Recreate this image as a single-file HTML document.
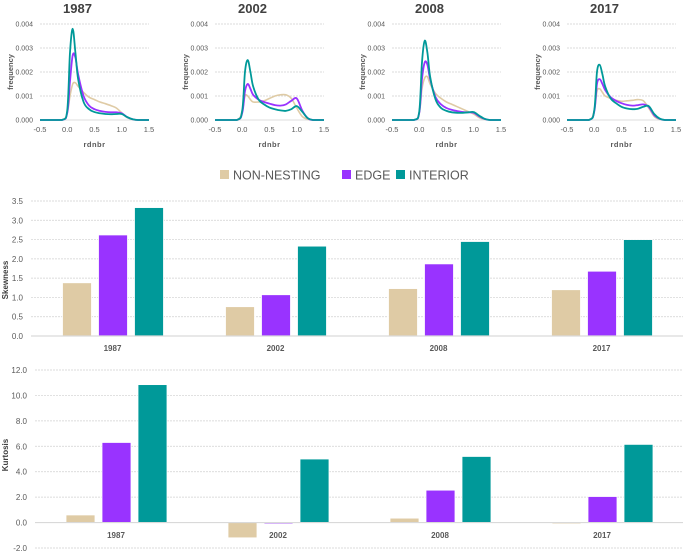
<!DOCTYPE html>
<html><head><meta charset="utf-8"><style>
body{margin:0;background:#fff;font-family:"Liberation Sans",sans-serif;}
svg{display:block}
</style></head><body>
<svg id="c" width="685" height="552"></svg>
<script>
const years=["1987","2002","2008","2017"];
const seriesNames=["NON-NESTING","EDGE","INTERIOR"];
const colors=["#dfcba5","#9933ff","#009999"];
const xSamples=[-0.5,-0.1,0,0.05,0.1,0.15,0.2,0.3,0.4,0.5,0.6,0.7,0.8,0.9,1.0,1.1,1.2,1.3,1.5];
// density values (x0.001)
const dens1987NN=[0,0,0.3,1.0,1.5,1.55,1.4,1.15,0.95,0.85,0.75,0.68,0.6,0.5,0.3,0.1,0.02,0,0];
const dens1987E=[0,0,0.3,1.6,2.7,2.6,1.9,1.0,0.6,0.45,0.38,0.34,0.32,0.32,0.28,0.12,0.03,0,0];
const dens1987I=[0,0,0.4,2.8,3.8,2.8,1.7,0.75,0.45,0.33,0.28,0.25,0.24,0.25,0.25,0.12,0.03,0,0];
const dens2002NN=[0,0,0.4,1.0,1.0,0.85,0.75,0.75,0.8,0.9,1.0,1.05,1.05,0.9,0.5,0.15,0.03,0,0];
const dens2002E=[0,0,0.3,1.2,1.5,1.3,1.05,0.85,0.75,0.68,0.62,0.6,0.65,0.8,0.9,0.4,0.08,0,0];
const dens2002I=[0,0,0.4,2.0,2.5,2.0,1.4,0.85,0.65,0.52,0.45,0.4,0.38,0.45,0.58,0.35,0.08,0,0];
const dens2008NN=[0,0,0.3,1.3,1.75,1.8,1.5,1.1,0.9,0.75,0.65,0.55,0.45,0.35,0.25,0.1,0.03,0,0];
const dens2008E=[0,0,0.3,1.7,2.4,2.3,1.7,0.95,0.65,0.5,0.42,0.37,0.33,0.32,0.3,0.15,0.04,0,0];
const dens2008I=[0,0,0.35,2.4,3.3,2.8,1.8,0.85,0.5,0.38,0.32,0.3,0.3,0.32,0.33,0.18,0.05,0,0];
const dens2017NN=[0,0,0.4,1.2,1.3,1.15,1.0,0.9,0.82,0.78,0.8,0.82,0.85,0.8,0.5,0.15,0.03,0,0];
const dens2017E=[0,0,0.35,1.5,1.7,1.5,1.25,0.95,0.8,0.7,0.63,0.6,0.62,0.65,0.55,0.2,0.05,0,0];
const dens2017I=[0,0,0.4,2.0,2.3,1.9,1.4,0.9,0.7,0.55,0.48,0.45,0.47,0.55,0.58,0.25,0.06,0,0];
const densities=[[dens1987NN,dens1987E,dens1987I],[dens2002NN,dens2002E,dens2002I],[dens2008NN,dens2008E,dens2008I],[dens2017NN,dens2017E,dens2017I]];
const freqTicks=["0.000","0.001","0.002","0.003","0.004"];
const rTicks=["-0.5","0.0","0.5","1.0","1.5"];
const skewNN=[1.38,0.76,1.23,1.2];
const skewE=[2.62,1.07,1.87,1.68];
const skewI=[3.33,2.33,2.45,2.5];
const kurtNN=[0.6,-1.2,0.35,-0.1];
const kurtE=[6.3,-0.1,2.55,2.05];
const kurtI=[10.85,5.0,5.2,6.15];
const skewTicks=["0.0","0.5","1.0","1.5","2.0","2.5","3.0","3.5"];
const kurtTicks=["-2.0","0.0","2.0","4.0","6.0","8.0","10.0","12.0"];

const svg=document.getElementById('c');
const NS="http://www.w3.org/2000/svg";
function mk(tag,attrs,parent){const e=document.createElementNS(NS,tag);for(const k in attrs)e.setAttribute(k,attrs[k]);(parent||svg).appendChild(e);return e;}
function txt(s,attrs,parent){const e=mk('text',attrs,parent);e.textContent=s;return e;}

const plotLefts=[40,215,392,567];
years.forEach((yr,i)=>{
  const g=mk('g',{});
  
  
  const x0=plotLefts[i],x1=x0+109,yTop=24,yBot=120;
  const sx=v=>x0+(v+0.5)/2*(x1-x0);
  const sy=v=>yBot-v/4*(yBot-yTop);
  const t=txt(yr,{x:(x0+x1)/2-17,y:13,'font-size':13,'font-weight':'bold',fill:'#404040','text-anchor':'middle'},g);
  
  
  freqTicks.forEach((lab,j)=>{
    const y=sy(j);
    if(j>0)mk('line',{x1:x0,x2:x1,y1:y,y2:y,stroke:'#d0d0d0','stroke-dasharray':'2,1','stroke-width':0.7},g);
    else mk('line',{x1:x0,x2:x1,y1:y,y2:y,stroke:'#d0d0d0','stroke-width':0.8},g);
    const tl=txt(lab,{x:x0-7,y:y+2.5,'font-size':7,fill:'#595959','text-anchor':'end'},g);
    
    
  });
  rTicks.forEach((lab,j)=>{
    const tl=txt(lab,{x:sx(parseFloat(lab)),y:132,'font-size':7.5,fill:'#595959','text-anchor':'middle'},g);
    
    
  });
  const xt=txt('rdnbr',{x:(x0+x1)/2,y:147,'font-size':7.5,'font-weight':'bold',fill:'#595959','text-anchor':'middle','letter-spacing':'0.5'},g);
  
  
  const yt=txt('frequency',{x:0,y:0,'font-size':7.5,'font-weight':'bold',fill:'#595959','text-anchor':'middle',transform:`translate(${x0-27},72) rotate(-90)`},g);
  
  
  densities[i].forEach((arr,s)=>{
    const pts=xSamples.map((xv,k)=>[sx(xv),sy(arr[k])]);
    let d='M'+pts[0][0]+','+pts[0][1];
    for(let k=0;k<pts.length-1;k++){
      const p0=pts[Math.max(0,k-1)],p1=pts[k],p2=pts[k+1],p3=pts[Math.min(pts.length-1,k+2)];
      const c1=[p1[0]+(p2[0]-p0[0])/6,p1[1]+(p2[1]-p0[1])/6];
      const c2=[p2[0]-(p3[0]-p1[0])/6,p2[1]-(p3[1]-p1[1])/6];
      d+=`C${c1[0]},${Math.min(yBot,c1[1])} ${c2[0]},${Math.min(yBot,c2[1])} ${p2[0]},${p2[1]}`;
    }
    const p=mk('path',{d:d,fill:'none',stroke:colors[s],'stroke-width':s==0?1.6:1.8},g);
    
    
  });
});

const legX=[220,342,396];
const lg=mk('g',{});


seriesNames.forEach((n,s)=>{
  const r=mk('rect',{x:legX[s],y:170,width:9,height:9,fill:colors[s]},lg);
  
  
  const t=txt(n,{x:legX[s]+13,y:179.5,'font-size':12.5,fill:'#595959'},lg);
  
  
});

function barChart(name,title,vals,ticks,tmin,tmax,left,right,yTopPx,yBotPx,labY,titleY){
  const g=mk('g',{});
  
  
  const sy=v=>yBotPx-(v-tmin)/(tmax-tmin)*(yBotPx-yTopPx);
  ticks.forEach(lab=>{
    const v=parseFloat(lab),y=sy(v);
    mk('line',{x1:left,x2:right,y1:y,y2:y,stroke:'#d0d0d0','stroke-dasharray':'2,1','stroke-width':0.7},g);
    const t=txt(lab,{x:left-8,y:y+3,'font-size':8,fill:'#595959','text-anchor':'end'},g);
    
    
  });
  const zy=sy(0);
  const cw=(right-left)/years.length;
  years.forEach((yr,i)=>{
    const c=left+cw*(i+0.5);
    vals.forEach((arr,s)=>{
      const v=arr[i];
      const bx=c-50+s*36;
      const y=Math.min(sy(v),zy),h=Math.abs(sy(v)-zy);
      const r=mk('rect',{x:bx,y:y,width:29,height:h,fill:colors[s],stroke:'#fff','stroke-width':0.8},g);
      
      
    });
    const t=txt(yr,{x:c,y:labY,'font-size':8,'font-weight':'bold',fill:'#595959','text-anchor':'middle'},g);
    
    
  });
  mk('line',{x1:left,x2:right,y1:zy,y2:zy,stroke:'#d9d9d9','stroke-width':1.2},g);
  const yt=txt(title,{x:0,y:0,'font-size':8,'font-weight':'bold',fill:'#404040','text-anchor':'middle',transform:`translate(8,${titleY}) rotate(-90)`},g);
  
  
}
barChart('skewness-chart','Skewness',[skewNN,skewE,skewI],skewTicks,0,3.5,31,683,201,336,351,280);
barChart('kurtosis-chart','Kurtosis',[kurtNN,kurtE,kurtI],kurtTicks,-2,12,35,683,370,548,538,455);
</script>
</body></html>
